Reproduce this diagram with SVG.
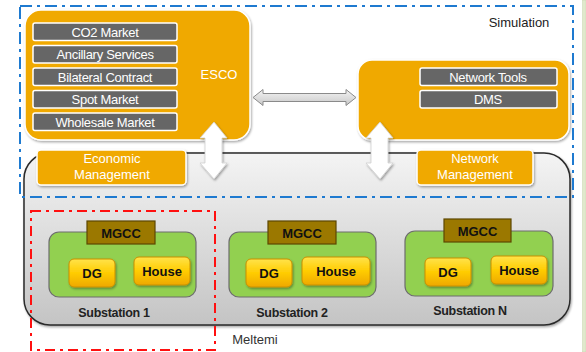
<svg xmlns="http://www.w3.org/2000/svg" width="586" height="352" viewBox="0 0 586 352">
<defs>
<linearGradient id="gGray" x1="0" y1="0" x2="0" y2="1">
<stop offset="0" stop-color="#f4f4f4"/><stop offset="1" stop-color="#c4c4c4"/>
</linearGradient>
<linearGradient id="gGold" x1="0" y1="0" x2="0" y2="1">
<stop offset="0" stop-color="#ffe34a"/><stop offset="0.5" stop-color="#ffcc00"/><stop offset="1" stop-color="#eea800"/>
</linearGradient>
<linearGradient id="gArrowH" x1="0" y1="0" x2="0" y2="1">
<stop offset="0" stop-color="#f4f4f4"/><stop offset="1" stop-color="#c8c8c8"/>
</linearGradient>
<filter id="sh" x="-10%" y="-10%" width="130%" height="130%">
<feDropShadow dx="1" dy="1.5" stdDeviation="1.2" flood-color="#000" flood-opacity="0.35"/>
</filter>
</defs>
<style>
text{font-family:"Liberation Sans",Arial,sans-serif;}
.org{fill:#f0a900;stroke:#ffffff;stroke-width:1.5;}
.lbl{fill:#666666;stroke:#ffffff;stroke-width:1.5;}
.lt{fill:#ffffff;font-size:13px;text-anchor:middle;letter-spacing:-0.3px;}
.wt{fill:#ffffff;font-size:13px;text-anchor:middle;}
.green{fill:#92d050;stroke:#6d6d6d;stroke-width:1.2;}
.mgcc{fill:#9b7800;stroke:#5c4700;stroke-width:1.2;}
.btn{fill:url(#gGold);stroke:#c89000;stroke-width:1;}
.bt{fill:#111;font-size:13px;font-weight:bold;text-anchor:middle;}
.sub{fill:#222;font-size:12.5px;font-weight:bold;text-anchor:middle;letter-spacing:-0.3px;}
.arrV{fill:#ffffff;stroke:#d0d0d0;stroke-width:0.8;}
</style>
<rect x="0" y="0" width="586" height="352" fill="#ffffff"/>
<rect x="582.5" y="0" width="3.5" height="352" fill="#e0e9cc" stroke="#c8d4ac" stroke-width="0.5"/>

<g id="meltemi">
<rect x="24" y="153" width="546" height="172" rx="26" fill="url(#gGray)" stroke="#2a2a2a" stroke-width="1.5" filter="url(#sh)"/>
<text x="255" y="344" fill="#333" font-size="13px" text-anchor="middle">Meltemi</text>
</g>

<g id="esco">
<rect class="org" x="25" y="10" width="225" height="130" rx="16" filter="url(#sh)"/>
<text class="wt" x="219" y="79">ESCO</text>
</g>
<g id="co2"><rect class="lbl" x="33" y="23" width="144" height="17.5" rx="2"/><text class="lt" x="105" y="36.5">CO2 Market</text></g>
<g id="ancillary"><rect class="lbl" x="33" y="45.5" width="144" height="17.5" rx="2"/><text class="lt" x="105" y="59">Ancillary Services</text></g>
<g id="bilateral"><rect class="lbl" x="33" y="68" width="144" height="17.5" rx="2"/><text class="lt" x="105" y="81.5">Bilateral Contract</text></g>
<g id="spot"><rect class="lbl" x="33" y="90.5" width="144" height="17.5" rx="2"/><text class="lt" x="105" y="104">Spot Market</text></g>
<g id="wholesale"><rect class="lbl" x="33" y="113" width="144" height="17.5" rx="2"/><text class="lt" x="105" y="126.5">Wholesale Market</text></g>

<g id="network">
<rect class="org" x="358" y="60" width="211" height="80" rx="14" filter="url(#sh)"/>
</g>
<g id="networktools"><rect class="lbl" x="420" y="68" width="137" height="17.5" rx="2"/><text class="lt" x="488" y="81.5">Network Tools</text></g>
<g id="dms"><rect class="lbl" x="420" y="90.5" width="137" height="17.5" rx="2"/><text class="lt" x="488" y="104">DMS</text></g>

<g id="economic">
<rect class="org" x="37" y="150" width="149" height="35" rx="4" filter="url(#sh)"/>
<text class="wt" x="112" y="163">Economic</text>
<text class="wt" x="112" y="179">Management</text>
</g>
<g id="netmgmt">
<rect class="org" x="417" y="150" width="116" height="35" rx="4" filter="url(#sh)"/>
<text class="wt" x="475" y="163">Network</text>
<text class="wt" x="475" y="179">Management</text>
</g>

<g id="connectors">
<path class="arrV" filter="url(#sh)" d="M214,122 L227,138 L222,138 L222,163 L227,163 L214,179 L200,163 L205,163 L205,138 L200,138 Z"/>
<path class="arrV" filter="url(#sh)" d="M380,122 L393,138 L388,138 L388,163 L393,163 L380,179 L366,163 L371,163 L371,138 L366,138 Z"/>
<path fill="url(#gArrowH)" stroke="#8a8a8a" stroke-width="1" d="M253,97.5 L263,89.5 L263,93.5 L346,93.5 L346,89.5 L356,97.5 L346,105.5 L346,101.5 L263,101.5 L263,105.5 Z"/>
</g>

<g id="substation1">
<rect class="green" x="49" y="232" width="147" height="65" rx="10"/>
<rect class="mgcc" x="87" y="221" width="68" height="23"/>
<text class="bt" x="121" y="237.5">MGCC</text>
<rect class="btn" x="69" y="259" width="46" height="28" rx="5" filter="url(#sh)"/>
<text class="bt" x="92" y="278">DG</text>
<rect class="btn" x="134" y="257" width="56" height="28" rx="5" filter="url(#sh)"/>
<text class="bt" x="162" y="276">House</text>
<text class="sub" x="114" y="317">Substation 1</text>
</g>

<g id="substation2">
<rect class="green" x="229" y="232" width="147" height="65" rx="10"/>
<rect class="mgcc" x="268" y="221" width="68" height="23"/>
<text class="bt" x="302" y="237.5">MGCC</text>
<rect class="btn" x="246" y="259" width="46" height="28" rx="5" filter="url(#sh)"/>
<text class="bt" x="269" y="278">DG</text>
<rect class="btn" x="302" y="257" width="68" height="28" rx="5" filter="url(#sh)"/>
<text class="bt" x="336" y="276">House</text>
<text class="sub" x="292" y="317">Substation 2</text>
</g>

<g id="substationN">
<rect class="green" x="405" y="231" width="148" height="65" rx="10"/>
<rect class="mgcc" x="444" y="219" width="67" height="23"/>
<text class="bt" x="477.5" y="235.5">MGCC</text>
<rect class="btn" x="425" y="258" width="46" height="28" rx="5" filter="url(#sh)"/>
<text class="bt" x="448" y="277">DG</text>
<rect class="btn" x="491" y="256" width="56" height="28" rx="5" filter="url(#sh)"/>
<text class="bt" x="519" y="275">House</text>
<text class="sub" x="470" y="315">Substation N</text>
</g>

<g id="simulation">
<rect x="20" y="6" width="553" height="191" fill="none" stroke="#1e7ad0" stroke-width="2" stroke-dasharray="12 5 3 5"/>
<text x="519" y="27" fill="#222" font-size="13px" text-anchor="middle">Simulation</text>
</g>

<g id="redbox">
<rect x="31" y="211" width="184" height="139" fill="none" stroke="#ff1010" stroke-width="2" stroke-dasharray="10 5 3 5"/>
</g>
</svg>
